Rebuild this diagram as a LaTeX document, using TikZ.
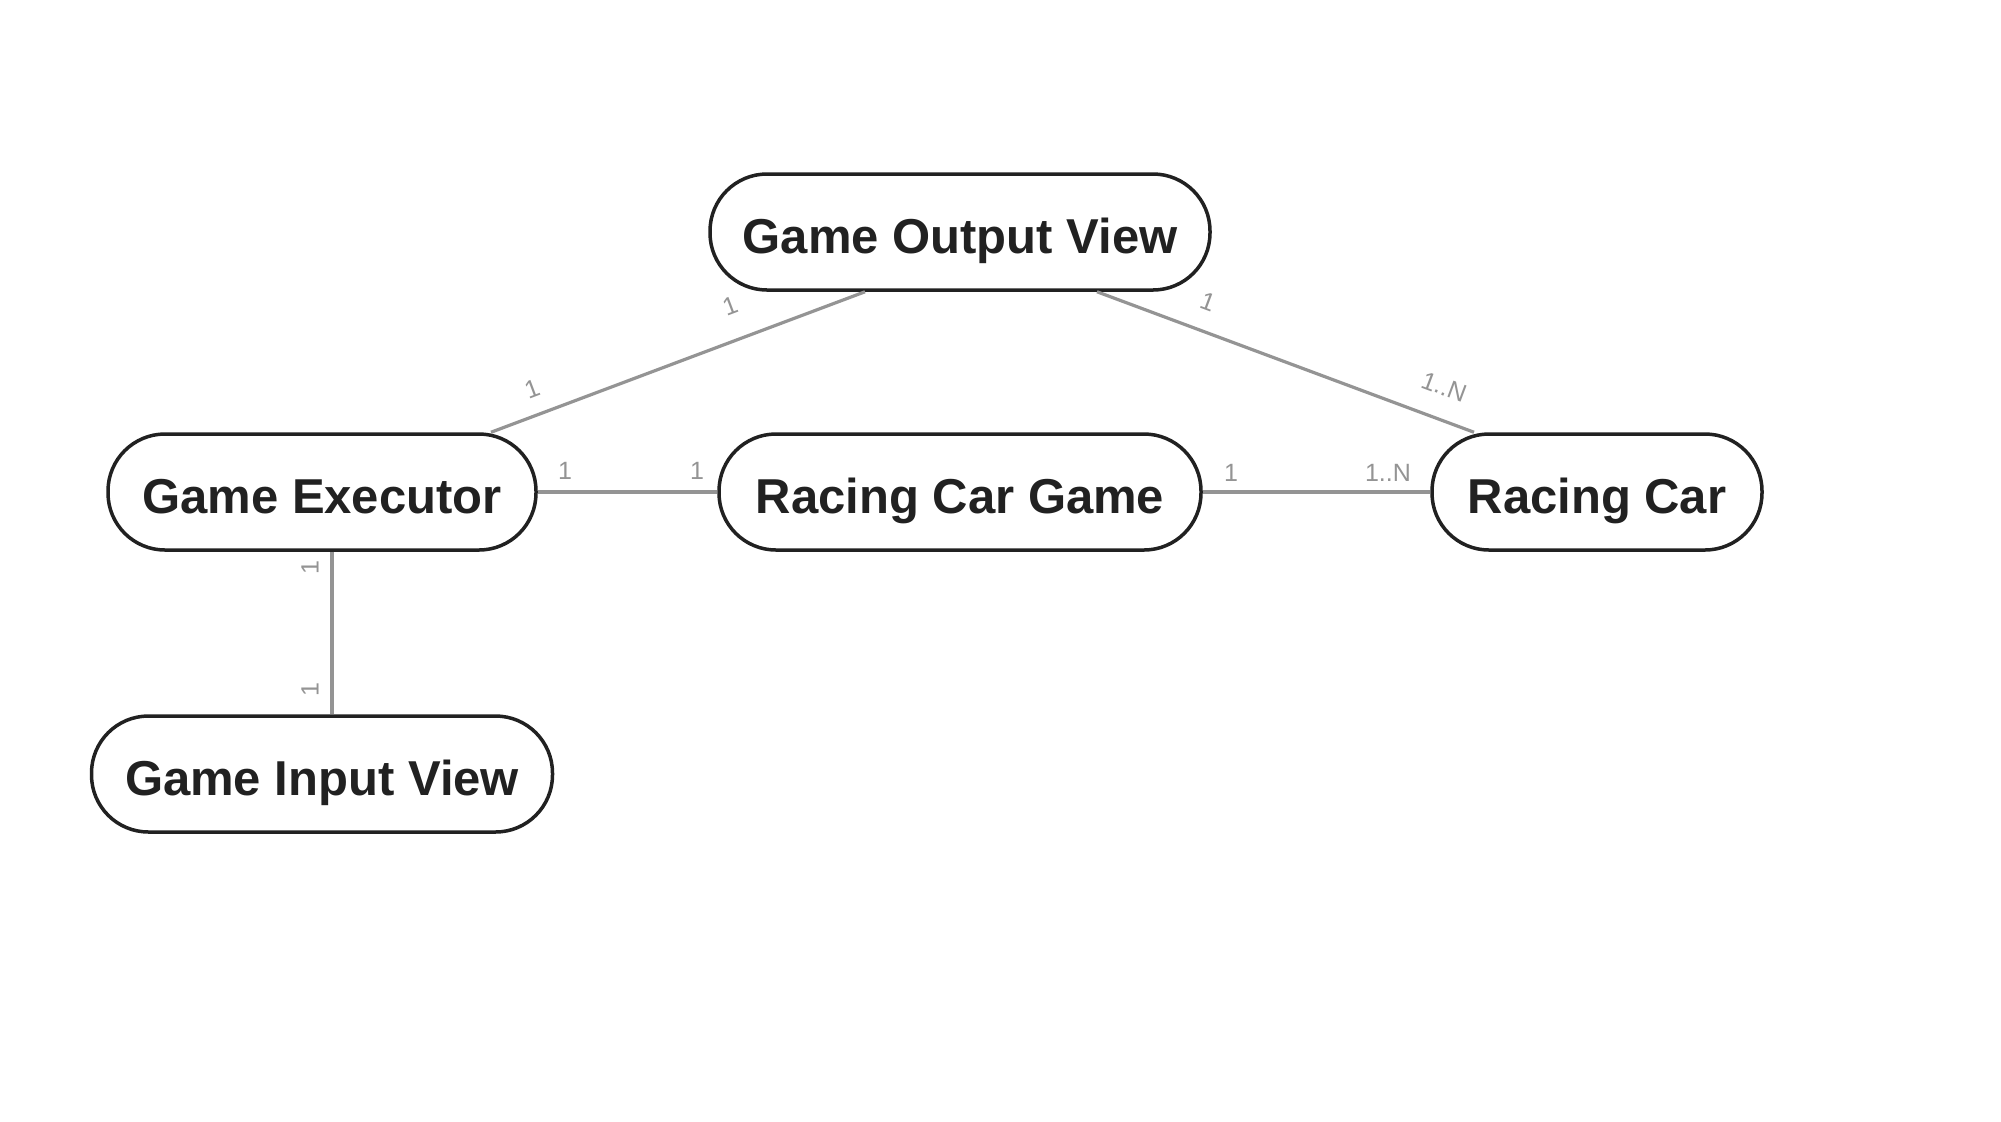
\documentclass[tikz,border=0pt]{standalone}
\usepackage{fontspec}
\setmainfont{Liberation Sans}
\begin{document}
\begin{tikzpicture}[x=0.5pt,y=-0.5pt,
  entity/.style={draw=black!87, line width=1.75pt, fill=white, rounded corners=28.5pt,
    minimum height=58pt, inner sep=0pt, text=black!87, text height=21pt, text depth=0pt,
    font=\fontsize{24.5}{28}\selectfont\bfseries},
  link/.style={draw=black!42, line width=1.6pt},
  mult/.style={text=black!42, inner sep=0pt, font=\fontsize{12.5}{14}\selectfont}]
\useasboundingbox[fill=white] (0,0) rectangle (2001,1121);
\node[entity, minimum width=250pt] (gov) at (960,232) {Game Output View};
\node[entity, minimum width=214pt] (ge) at (322,492) {Game Executor};
\node[entity, minimum width=241pt] (rcg) at (960,492) {Racing Car Game};
\node[entity, minimum width=165pt] (rc) at (1597,492) {Racing Car};
\node[entity, minimum width=230.5pt] (giv) at (322,774) {Game Input View};
\draw[link] (ge.east) -- (rcg.west);
\draw[link] (rcg.east) -- (rc.west);
\draw[link] ([xshift=84.5pt]ge.north) -- ([xshift=-47.5pt]gov.south);
\draw[link] ([xshift=68.5pt]gov.south) -- ([xshift=-61.5pt]rc.north);
\draw[link] ([xshift=5pt]ge.south) -- ([xshift=5pt]giv.north);
\node[mult] (m1) at (565,471) {1};
\node[mult] (m2) at (697,471) {1};
\node[mult] (m3) at (1231,473) {1};
\node[mult] (m4) at (1388,473) {1..N};
\node[mult, rotate=20.7] (m5) at (532,389) {1};
\node[mult, rotate=20.7] (m6) at (730,306) {1};
\node[mult, rotate=-20.5] (m7) at (1208,302) {1};
\node[mult, rotate=-20.5] (m8) at (1444,387) {1..N};
\node[mult, rotate=90] (m9) at (310,568) {1};
\node[mult, rotate=90] (m10) at (310,690) {1};
\end{tikzpicture}
\end{document}
